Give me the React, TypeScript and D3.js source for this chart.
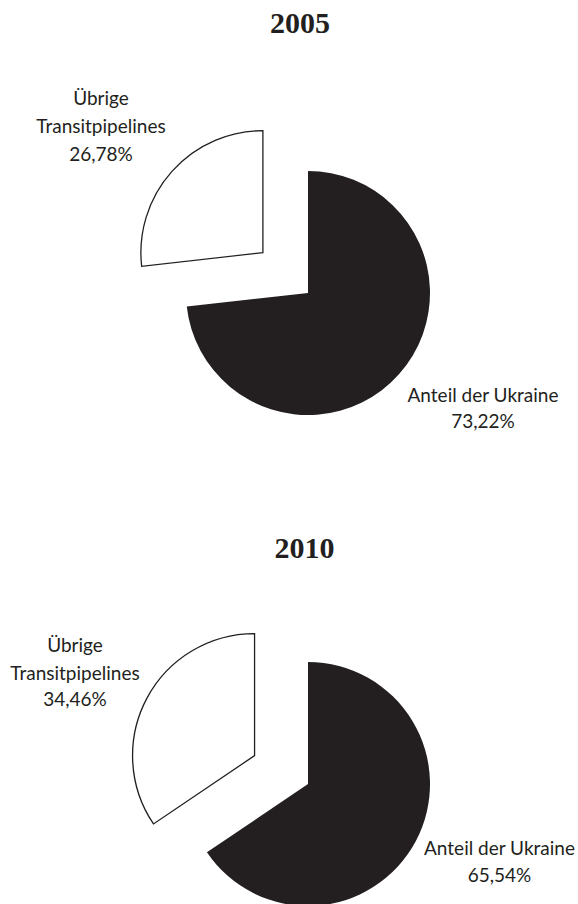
import React from "react";
import * as d3 from "d3";

const years = ["2005", "2010"];
const ukraineShare = [73.22, 65.54];
const otherShare = [26.78, 34.46];
const ukraineLabel = ["Anteil der Ukraine"];
const otherLabel = ["Übrige", "Transitpipelines"];

const W = 578;
const H = 904;
const INK = "#231f20";
const R = 122;
const EXPLODE = 60.5;

const layouts = [
  { cx: 308, cy: 293, titleX: 300, titleY: 33, otherX: 101, otherY: [105, 133, 161], ukrX: 483, ukrY: [401.7, 428.3] },
  { cx: 308, cy: 784, titleX: 304.5, titleY: 558, otherX: 75, otherY: [652, 680, 706], ukrX: 499.5, ukrY: [855, 881.7] },
];

const locale = d3.formatLocale({ decimal: ",", thousands: ".", grouping: [3], currency: ["", "€"] });
const fmt = locale.format(".2f");

const sansFont = "Lato, 'Noto Sans', sans-serif";

export default function App() {
  const pie = d3.pie<number>().sort(null).value((d) => d).startAngle(0).endAngle(2 * Math.PI);
  const arc = d3.arc<d3.PieArcDatum<number>>().innerRadius(0).outerRadius(R);

  return (
    <svg width={W} height={H} style={{ position: "absolute", left: 0, top: 0, background: "#fff" }}>
      {years.map((year, i) => {
        const L = layouts[i];
        const arcs = pie([ukraineShare[i], otherShare[i]]);
        return (
          <g key={year}>
            <text x={L.titleX} y={L.titleY} textAnchor="middle" fontFamily="'Liberation Serif', serif" fontWeight="bold" fontSize={30} fill={INK}>
              {year}
            </text>
            {arcs.map((a, j) => {
              const mid = (a.startAngle + a.endAngle) / 2;
              const off = j === 1 ? EXPLODE : 0;
              const dx = Math.sin(mid) * off;
              const dy = -Math.cos(mid) * off;
              return (
                <path
                  key={j}
                  d={arc(a) || ""}
                  transform={`translate(${L.cx + dx},${L.cy + dy})`}
                  fill={j === 0 ? INK : "#fff"}
                  stroke={j === 0 ? "none" : INK}
                  strokeWidth={1.3}
                  strokeLinejoin="miter"
                />
              );
            })}
            <g fontFamily={sansFont} fontSize={19} fill={INK} textAnchor="middle">
              <text x={L.otherX} y={L.otherY[0]}>{otherLabel[0]}</text>
              <text x={L.otherX} y={L.otherY[1]}>{otherLabel[1]}</text>
              <text x={L.otherX} y={L.otherY[2]}>{fmt(otherShare[i])}%</text>
              <text x={L.ukrX} y={L.ukrY[0]}>{ukraineLabel[0]}</text>
              <text x={L.ukrX} y={L.ukrY[1]}>{fmt(ukraineShare[i])}%</text>
            </g>
          </g>
        );
      })}
    </svg>
  );
}
